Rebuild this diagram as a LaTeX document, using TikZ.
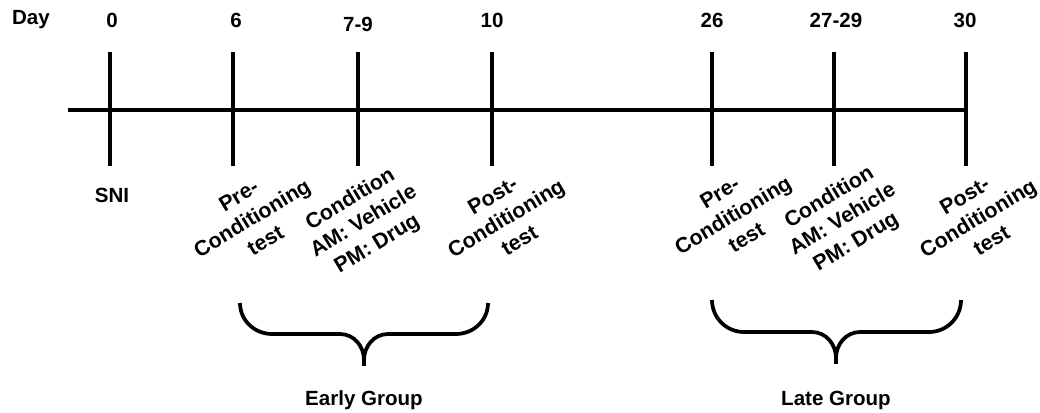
\documentclass[tikz,border=0pt]{standalone}
\usepackage{fontspec}
\setmainfont{Liberation Sans}
\begin{document}
\begin{tikzpicture}[x=0.75pt,y=-0.75pt,
  lbl/.style={font=\fontsize{15.4}{17}\selectfont\bfseries, inner sep=0pt},
  rlbl/.style={font=\fontsize{16}{19.5}\selectfont\bfseries, inner sep=0pt, align=center, rotate=31},
  axis/.style={line width=3pt},
  brace/.style={line width=2.8pt, line join=round}]
\useasboundingbox (0,0) rectangle (1040,413);
% timeline
\coordinate (L) at (68,110);
\coordinate (R) at (967,110);
\draw[axis] (L) -- (R);
\foreach \n/\x in {a/110,b/233,c/358,d/492,e/712,f/834,g/966}{
  \coordinate (\n top) at (\x,52);
  \coordinate (\n bot) at (\x,166);
  \draw[axis] (\n top) -- (\n bot);
}
% day labels
\node[lbl] (day) at (31,20) {Day};
\node[lbl] (d0) at (112,20) {0};
\node[lbl] (d6) at (236,20) {6};
\node[lbl] (d79) at (358,24) {7-9};
\node[lbl] (d10) at (492,20) {10};
\node[lbl] (d26) at (712,20) {26};
\node[lbl] (d2729) at (836,20) {27-29};
\node[lbl] (d30) at (965,20) {30};
% event labels
\node[lbl] (sni) at (112,195) {SNI};
\node[rlbl] (pre1) at (252,218) {Pre-\\Conditioning\\test};
\node[rlbl] (cond1) at (364,222) {Condition\\AM: Vehicle\\PM: Drug};
\node[rlbl] (post1) at (506,218) {Post-\\Conditioning\\test};
\node[rlbl] (pre2) at (733,215) {Pre-\\Conditioning\\test};
\node[rlbl] (cond2) at (843,220) {Condition\\AM: Vehicle\\PM: Drug};
\node[rlbl] (post2) at (978,218) {Post-\\Conditioning\\test};
% braces
\coordinate (b1l) at (240,303);
\coordinate (b1r) at (488,303);
\coordinate (b1t) at (364,366);
\draw[brace] (b1l) to[out=-90,in=180] (272,334) -- (340,334)
   to[out=0,in=90] (364,360) -- (b1t);
\draw[brace] (b1r) to[out=-90,in=0] (456,334) -- (388,334)
   to[out=180,in=90] (364,360);
\coordinate (b2l) at (712,300);
\coordinate (b2r) at (961,300);
\coordinate (b2t) at (836,364);
\draw[brace] (b2l) to[out=-90,in=180] (744,332) -- (812,332)
   to[out=0,in=90] (836,358) -- (b2t);
\draw[brace] (b2r) to[out=-90,in=0] (929,332) -- (860,332)
   to[out=180,in=90] (836,358);
\node[lbl] (early) at (364,400) {Early Group};
\node[lbl] (late) at (836,400) {Late Group};
\end{tikzpicture}
\end{document}
